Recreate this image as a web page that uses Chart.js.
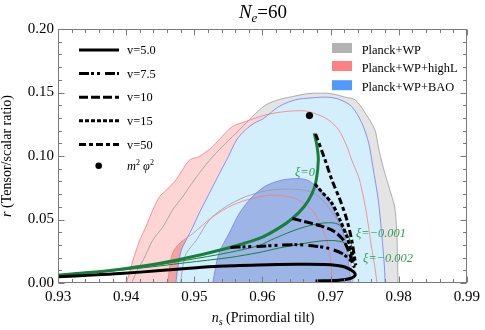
<!DOCTYPE html>
<html>
<head>
<meta charset="utf-8">
<script src="https://cdn.jsdelivr.net/npm/chart.js@4.4.0/dist/chart.umd.min.js"></script>
<style>
  html, body { margin: 0; padding: 0; background: #fff; }
  #probe { position: absolute; left: -999px; top: 0; font-family: "Liberation Serif"; }
</style>
</head>
<body>
<canvas id="chart" width="485" height="330"></canvas>
<span id="probe">0.93 <i>N ξ φ</i></span>
<script>
// Planck 2013 contours, [ns, r]
const planckWP95 = [[0.9408,0],[0.9418,0.012],[0.9425,0.0179],[0.9439,0.0337],[0.9454,0.0442],[0.9468,0.0574],[0.9483,0.0679],[0.9493,0.0758],[0.9507,0.0863],[0.9527,0.0995],[0.9546,0.110],[0.9566,0.1205],[0.9585,0.131],[0.9605,0.1403],[0.9625,0.1445],[0.9644,0.1468],[0.9665,0.149],[0.9685,0.1495],[0.9702,0.149],[0.972,0.1465],[0.9736,0.1442],[0.9751,0.1337],[0.9765,0.1205],[0.977,0.1074],[0.9777,0.0916],[0.9787,0.0732],[0.9794,0.06],[0.9797,0.0416],[0.9798,0.0232],[0.9799,0]];
const planckHighL95 = [[0.9400,0],[0.9405,0.008],[0.941,0.0179],[0.942,0.0337],[0.9429,0.0442],[0.9439,0.0574],[0.9449,0.0679],[0.9459,0.0732],[0.9473,0.0811],[0.9493,0.0968],[0.9507,0.0995],[0.9527,0.1074],[0.9536,0.1126],[0.9556,0.1232],[0.9575,0.1271],[0.9605,0.1324],[0.9634,0.135],[0.9663,0.1355],[0.9682,0.1324],[0.9697,0.1284],[0.9712,0.1205],[0.9724,0.1074],[0.9731,0.0968],[0.9741,0.0837],[0.9746,0.0732],[0.9751,0.06],[0.9755,0.0469],[0.976,0.0284],[0.9765,0.0126],[0.9768,0]];
const planckBAO95 = [[0.9473,0],[0.9476,0.0126],[0.9481,0.0258],[0.9488,0.0337],[0.9498,0.0442],[0.9507,0.0548],[0.9517,0.0653],[0.9527,0.0758],[0.9537,0.0863],[0.955,0.0995],[0.9562,0.1126],[0.9575,0.1205],[0.9588,0.1258],[0.9602,0.1297],[0.9624,0.1389],[0.9648,0.1442],[0.9673,0.1458],[0.9695,0.1463],[0.9712,0.1447],[0.9731,0.1389],[0.9746,0.1258],[0.9756,0.11],[0.9762,0.0916],[0.977,0.0653],[0.9775,0.039],[0.9779,0.0126],[0.978,0]];
const planckWP68 = [[0.948,0],[0.9483,0.0126],[0.9488,0.0232],[0.9503,0.0337],[0.9522,0.0495],[0.9546,0.06],[0.9575,0.0679],[0.9605,0.0726],[0.9634,0.074],[0.9655,0.0735],[0.9672,0.0715],[0.9688,0.0653],[0.9707,0.0521],[0.9719,0.039],[0.9728,0.0205],[0.9733,0]];
const planckHighL68 = [[0.9461,0],[0.9464,0.0126],[0.9468,0.0232],[0.9478,0.0311],[0.9498,0.039],[0.9527,0.0521],[0.9556,0.0613],[0.9585,0.0666],[0.9614,0.0692],[0.9638,0.068],[0.9653,0.0653],[0.9673,0.0574],[0.9687,0.0442],[0.9697,0.0284],[0.9701,0.0126],[0.9702,0]];
const planckBAO68 = [[0.9527,0],[0.9536,0.0232],[0.9551,0.039],[0.9566,0.0548],[0.9585,0.0679],[0.9605,0.0765],[0.9629,0.0811],[0.9653,0.0822],[0.9668,0.0805],[0.9682,0.0745],[0.9697,0.0653],[0.9709,0.0521],[0.9719,0.039],[0.9726,0.0179],[0.973,0]];

// model curves
const xi0 = [[0.93,0.0063],[0.935,0.0085],[0.94,0.0115],[0.945,0.0155],[0.95,0.021],[0.9551,0.0278],[0.9575,0.0315],[0.96,0.0362],[0.9624,0.0432],[0.9644,0.0508],[0.9661,0.060],[0.9673,0.0706],[0.9679,0.0811],[0.9682,0.0968],[0.968,0.108],[0.9676,0.1179]];
const xiM001 = [[0.93,0.006],[0.94,0.011],[0.945,0.0145],[0.9488,0.0179],[0.9551,0.024],[0.9595,0.0295],[0.9612,0.0337],[0.9635,0.039],[0.9658,0.0435],[0.968,0.0465],[0.9697,0.0475],[0.971,0.0465],[0.9721,0.0416],[0.9729,0.033],[0.9734,0.022]];
const xiM002 = [[0.93,0.0058],[0.94,0.0105],[0.945,0.0135],[0.9488,0.016],[0.9551,0.02],[0.9595,0.024],[0.9624,0.0275],[0.9673,0.0322],[0.9697,0.0335],[0.9716,0.0325],[0.9724,0.03],[0.9731,0.0232],[0.9734,0.017]];
const v5 = [[0.93,0.005],[0.935,0.0062],[0.9391,0.0074],[0.945,0.0098],[0.9488,0.0114],[0.9536,0.0132],[0.9595,0.0142],[0.965,0.0147],[0.969,0.0146],[0.971,0.0138],[0.9721,0.0126],[0.9734,0.0087],[0.9736,0.006],[0.9729,0.0035],[0.9712,0.0021],[0.9678,0.0016]];
const v75 = [[0.9553,0.028],[0.9575,0.0285],[0.96,0.029],[0.9624,0.0298],[0.965,0.0302],[0.9678,0.029],[0.9698,0.0271],[0.9717,0.0232],[0.9729,0.0179],[0.9735,0.013]];
const v10 = [[0.9644,0.0508],[0.9663,0.0482],[0.9682,0.0455],[0.9702,0.0416],[0.9717,0.035],[0.9726,0.0258],[0.9731,0.0179],[0.9735,0.012]];
const v15 = [[0.9677,0.078],[0.9687,0.0718],[0.9702,0.0627],[0.9714,0.0495],[0.9724,0.0363],[0.9731,0.0232],[0.9735,0.0153]];
const v50 = [[0.9678,0.1174],[0.9692,0.0968],[0.9702,0.081],[0.9714,0.0653],[0.9724,0.0495],[0.9731,0.0337],[0.9735,0.0205],[0.9737,0.014]];
const m2phi2 = [[0.9669,0.1318]];

const xTicks = [0.93, 0.94, 0.95, 0.96, 0.97, 0.98, 0.99];
const yTicks = [0, 0.05, 0.10, 0.15, 0.20];

const serif = "'Liberation Serif', 'Times New Roman', 'DejaVu Serif', serif";
const green = '#17803b';

function pts(arr) {
    return arr.map(p => ({x: p[0], y: p[1]}));
}
function area(label, arr, color) {
    return {label, data: pts(arr), showLine: true, pointRadius: 0, borderWidth: 0,
        backgroundColor: color, fill: 'shape', tension: 0.2};
}
function line(label, arr, color, width, dash) {
    return {label, data: pts(arr), showLine: true, pointRadius: 0, borderWidth: width,
        borderColor: color, borderDash: dash || [], fill: false, tension: 0.3};
}

// listed back to front
const datasets = [
    area('gray95', planckWP95, '#e4e4e4'),
    area('pink95', planckHighL95, '#fdd5d5'),
    area('pink68', planckHighL68, '#f2a3a3'),
    area('blue95', planckBAO95, '#d4effc'),
    area('blue68', planckBAO68, '#9db5e6'),
    line('gray95 line', planckWP95, '#9a9a9a', 0.8),
    line('red95 line', planckHighL95, '#f77b7b', 0.8),
    line('blue95 line', planckBAO95, '#7878f0', 0.8),
    line('gray68 line', planckWP68, '#9a9a9a', 0.8),
    line('red68 line', planckHighL68, '#f77b7b', 0.8),
    line('blue68 line', planckBAO68, '#7878f0', 0.8),
    line('xi=-0.001', xiM001, green, 1),
    line('xi=-0.002', xiM002, green, 1),
    line('xi=0', xi0, green, 3),
    line('v=5.0', v5, '#000', 3),
    line('v=7.5', v75, '#000', 3, [10, 2, 3, 3, 3, 5]),
    line('v=10', v10, '#000', 3, [9, 3]),
    line('v=15', v15, '#000', 3, [4, 2]),
    line('v=50', v50, '#000', 3, [7, 3, 4, 3]),
    {label: 'm2phi2', data: pts(m2phi2), pointRadius: 3.6, pointBackgroundColor: '#000', pointBorderWidth: 0}
];
datasets.forEach((d, i) => { d.order = datasets.length - i; });

function drawRuns(ctx, runs, x, y, align) {
    let w = 0;
    runs.forEach(r => { ctx.font = r.font; r.w = ctx.measureText(r.t).width; w += r.w; });
    let cx = align === 'center' ? x - w / 2 : x;
    runs.forEach(r => { ctx.font = r.font; ctx.fillText(r.t, cx, y + (r.dy || 0)); cx += r.w; });
}

const decorations = {
    id: 'decorations',
    afterDraw(chart) {
        const {ctx, chartArea: a, scales: {x, y}} = chart;
        ctx.save();
        // frame with inward ticks on all sides
        ctx.strokeStyle = '#7a7a7a';
        ctx.lineWidth = 1;
        const L = Math.round(a.left) + 0.5, R = Math.round(a.right) - 0.5;
        const T = Math.round(a.top) + 0.5, B = Math.round(a.bottom) - 0.5;
        ctx.strokeRect(L, T, R - L, B - T);
        ctx.beginPath();
        for (let i = 0; i <= 30; i++) {
            const px = Math.round(x.getPixelForValue(0.93 + i * 0.002)) + 0.5;
            const len = i % 5 === 0 ? 6 : 3.5;
            ctx.moveTo(px, B); ctx.lineTo(px, B - len);
            ctx.moveTo(px, T); ctx.lineTo(px, T + len);
        }
        for (let i = 0; i <= 20; i++) {
            const py = Math.round(y.getPixelForValue(i * 0.01)) + 0.5;
            const len = i % 5 === 0 ? 6 : 3.5;
            ctx.moveTo(L, py); ctx.lineTo(L + len, py);
            ctx.moveTo(R, py); ctx.lineTo(R - len, py);
        }
        ctx.stroke();

        ctx.fillStyle = '#000';
        ctx.textBaseline = 'alphabetic';
        // title
        drawRuns(ctx, [
            {t: 'N', font: 'italic 19px ' + serif},
            {t: 'e', font: 'italic 13px ' + serif, dy: 4},
            {t: '=60', font: '19px ' + serif}
        ], 263, 18, 'center');
        // x axis title
        drawRuns(ctx, [
            {t: 'n', font: 'italic 14px ' + serif},
            {t: 's', font: 'italic 10px ' + serif, dy: 3},
            {t: ' (Primordial tilt)', font: '14px ' + serif}
        ], 263, 322, 'center');
        // y axis title
        ctx.save();
        ctx.translate(11, (a.top + a.bottom) / 2);
        ctx.rotate(-Math.PI / 2);
        drawRuns(ctx, [
            {t: 'r', font: 'italic 14px ' + serif},
            {t: ' (Tensor/scalar ratio)', font: '14px ' + serif}
        ], 0, 0, 'center');
        ctx.restore();

        // left legend: model curves
        const lf = '12.4px ' + serif;
        const rowsY = [50, 73.5, 97.3, 120.8, 144.5];
        ['v=5.0', 'v=7.5', 'v=10', 'v=15', 'v=50'].forEach((lab, i) => {
            const ds = chart.data.datasets.find(d => d.label === lab);
            ctx.strokeStyle = '#000';
            ctx.lineWidth = 3;
            ctx.setLineDash(ds.borderDash);
            ctx.beginPath();
            ctx.moveTo(79, rowsY[i]); ctx.lineTo(119, rowsY[i]);
            ctx.stroke();
            ctx.setLineDash([]);
            ctx.font = lf;
            ctx.fillText(lab, 127, rowsY[i] + 4);
        });
        ctx.beginPath();
        ctx.arc(98.7, 165.8, 3.3, 0, Math.PI * 2);
        ctx.fill();
        drawRuns(ctx, [
            {t: 'm', font: 'italic 12.4px ' + serif},
            {t: '2', font: '8px ' + serif, dy: -5},
            {t: ' \u03c6', font: 'italic 12.4px ' + serif},
            {t: '2', font: '8px ' + serif, dy: -5}
        ], 127, 169.5);

        // right legend: data sets
        const swatches = [['#b3b3b3', 'Planck+WP'], ['#ff8080', 'Planck+WP+highL'], ['#4f9bff', 'Planck+WP+BAO']];
        const sy = [48, 66, 85.2];
        swatches.forEach((s, i) => {
            ctx.fillStyle = s[0];
            ctx.fillRect(332, sy[i] - 5, 20, 10);
            ctx.fillStyle = '#000';
            ctx.font = lf;
            ctx.fillText(s[1], 361.7, sy[i] + 5.8);
        });

        // xi labels
        ctx.fillStyle = '#2f9a55';
        ctx.font = 'italic 12.4px ' + serif;
        ctx.fillText('\u03be=0', 295, 176);
        ctx.fillText('\u03be=\u22120.001', 356, 236.5);
        ctx.fillText('\u03be=\u22120.002', 363, 262);
        ctx.restore();
    }
};

function build() {
    new Chart(document.getElementById('chart'), {
        type: 'scatter',
        data: {datasets},
        options: {
            responsive: false,
            animation: false,
            layout: {padding: {left: 0, right: 16, top: 29, bottom: 0}},
            plugins: {legend: {display: false}, tooltip: {enabled: false}},
            scales: {
                x: {
                    type: 'linear', min: 0.93, max: 0.99,
                    afterBuildTicks: s => { s.ticks = xTicks.map(v => ({value: v})); },
                    afterFit: s => { s.height = 47; },
                    grid: {display: false, drawTicks: false},
                    border: {display: false},
                    ticks: {
                        callback: v => v.toFixed(2), color: '#000', padding: 5,
                        maxRotation: 0, autoSkip: false,
                        font: {family: serif, size: 15}
                    }
                },
                y: {
                    type: 'linear', min: 0, max: 0.2,
                    afterBuildTicks: s => { s.ticks = yTicks.map(v => ({value: v})); },
                    afterFit: s => { s.width = 58; },
                    grid: {display: false, drawTicks: false},
                    border: {display: false},
                    ticks: {
                        callback: v => v.toFixed(2), color: '#000', padding: 4,
                        font: {family: serif, size: 15}
                    }
                }
            }
        },
        plugins: [decorations]
    });
}

Promise.all([
    document.fonts.load("15px 'Liberation Serif'"),
    document.fonts.load("italic 15px 'Liberation Serif'")
]).then(build, build);
</script>
</body>
</html>
